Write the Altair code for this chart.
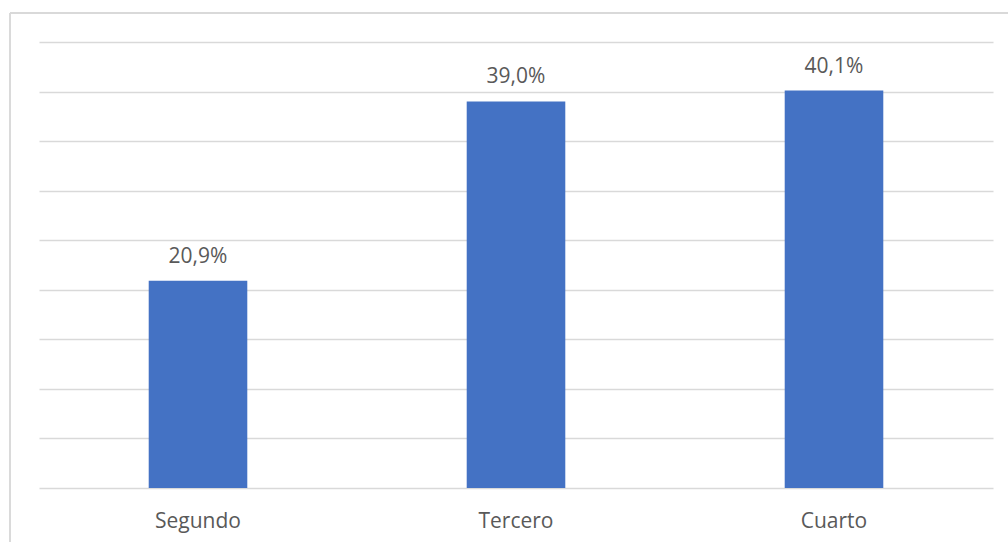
import altair as alt
import pandas as pd

# Share of respondents by quartile
categories = ["Segundo", "Tercero", "Cuarto"]
values = [20.9, 39.0, 40.1]

df = pd.DataFrame({"cuartil": categories, "valor": values})
df["etiqueta"] = df["valor"].map(lambda v: f"{v:.1f}%".replace(".", ","))

FONT = "Open Sans"
GRID = "#d9d9d9"
TEXT = "#595959"

x = alt.X(
    "cuartil:N",
    sort=categories,
    title=None,
    scale=alt.Scale(paddingInner=0.69, paddingOuter=0.345),
    axis=alt.Axis(
        domain=False,
        ticks=False,
        grid=False,
        labelAngle=0,
        labelFont=FONT,
        labelFontSize=21,
        labelColor=TEXT,
        labelBaseline="alphabetic",
        labelPadding=39,
    ),
)
y = alt.Y(
    "valor:Q",
    title=None,
    scale=alt.Scale(domain=[0, 45]),
    axis=alt.Axis(
        values=list(range(0, 50, 5)),
        labels=False,
        ticks=False,
        domain=False,
        grid=True,
        gridColor=GRID,
        gridWidth=1.4,
    ),
)

bars = alt.Chart(df).mark_bar(color="#4472C4").encode(x=x, y=y)

labels = alt.Chart(df).mark_text(
    font=FONT, fontSize=21, color=TEXT, baseline="alphabetic", dy=-18
).encode(x=x, y=y, text="etiqueta:N")

# Light frame around the chart (left and top edges)
frame_left = alt.Chart(df).mark_rule(color=GRID, strokeWidth=1.4).encode(
    x=alt.value(-29), y=alt.value(-29), y2=alt.value(520)
)
frame_top = alt.Chart(df).mark_rule(color=GRID, strokeWidth=1.4).encode(
    x=alt.value(-29), x2=alt.value(990), y=alt.value(-29)
)

chart = (
    alt.layer(frame_left, frame_top, bars, labels)
    .properties(
        width=954,
        height=446,
        background="white",
        autosize=alt.AutoSizeParams(type="none"),
        padding={"left": 39, "top": 42, "right": 15, "bottom": 54},
    )
    .configure_view(stroke=None)
)

chart.save("out.html", embed_options={"renderer": "svg", "actions": False})
